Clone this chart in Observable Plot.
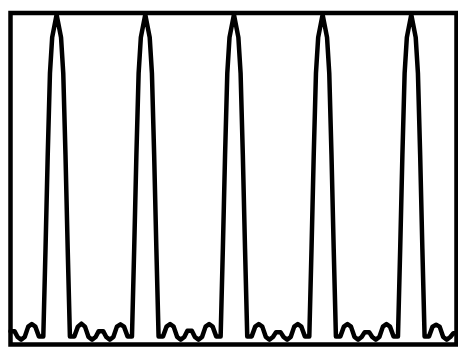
<!DOCTYPE html>
<html><head><meta charset="utf-8">
<script src="https://cdn.jsdelivr.net/npm/d3@7"></script>
<script src="https://cdn.jsdelivr.net/npm/@observablehq/plot@0.6"></script>
<style>html,body{margin:0;padding:0;background:#fff;} svg{display:block;}</style>
</head><body><div id="chart"></div>
<script>
// sample positions, one row per stretch between peaks
const xs = [
  -0.4, 0.5, 1.2, 2, 2.8, 3.6, 4.4, 5.2, 6, 7, 7.5, 8, 8.5, 9,
  10, 11, 11.5, 12, 12.5, 13, 14, 14.8, 15.6, 16.4, 17.2, 18, 18.8, 19.5, 20.5, 21.2, 22, 22.8, 23.6, 24.4, 25.2, 26, 27, 27.5, 28, 28.5, 29,
  30, 31, 31.5, 32, 32.5, 33, 34, 34.8, 35.6, 36.4, 37.2, 38, 38.8, 39.5, 40.5, 41.2, 42, 42.8, 43.6, 44.4, 45.2, 46, 47, 47.5, 48, 48.5, 49,
  50, 51, 51.5, 52, 52.5, 53, 54, 54.8, 55.6, 56.4, 57.2, 58, 58.8, 59.5, 60.5, 61.2, 62, 62.8, 63.6, 64.4, 65.2, 66, 67, 67.5, 68, 68.5, 69,
  70, 71, 71.5, 72, 72.5, 73, 74, 74.8, 75.6, 76.4, 77.2, 78, 78.8, 79.5, 80.5, 81.2, 82, 82.8, 83.6, 84.4, 85.2, 86, 87, 87.5, 88, 88.5, 89,
  90, 91, 91.5, 92, 92.5, 93, 94, 94.8, 95.6, 96.4, 97.2, 98, 98.8, 99.5, 100.2
];
const ys = [
  0.026, 0.026, 0.008, 0, 0.008, 0.04, 0.048, 0.04, 0.01, 0.01, 0.28, 0.57, 0.82, 0.93,
  1, 0.93, 0.82, 0.57, 0.28, 0.01, 0.01, 0.04, 0.049, 0.04, 0.008, 0, 0.008, 0.026, 0.026, 0.008, 0, 0.008, 0.04, 0.047, 0.04, 0.01, 0.01, 0.28, 0.57, 0.82, 0.93,
  1, 0.93, 0.82, 0.57, 0.28, 0.01, 0.01, 0.04, 0.048, 0.04, 0.008, 0, 0.008, 0.027, 0.027, 0.008, 0, 0.008, 0.04, 0.048, 0.04, 0.01, 0.01, 0.28, 0.57, 0.82, 0.93,
  1, 0.93, 0.82, 0.57, 0.28, 0.01, 0.01, 0.04, 0.048, 0.04, 0.008, 0, 0.008, 0.023, 0.023, 0.008, 0, 0.008, 0.04, 0.048, 0.04, 0.01, 0.01, 0.28, 0.57, 0.82, 0.93,
  1, 0.93, 0.82, 0.57, 0.28, 0.01, 0.01, 0.04, 0.048, 0.04, 0.008, 0, 0.008, 0.023, 0.023, 0.008, 0, 0.008, 0.04, 0.048, 0.04, 0.01, 0.01, 0.28, 0.57, 0.82, 0.93,
  1, 0.93, 0.82, 0.57, 0.28, 0.01, 0.01, 0.04, 0.046, 0.04, 0.008, 0, 0.008, 0.02, 0.02
];
const data = xs.map((x, i) => ({x, y: ys[i]}));
const chart = Plot.plot({
  width: 458, height: 347,
  marginLeft: 10, marginRight: 2, marginTop: 12.5, marginBottom: 3,
  x: {domain: [-0.4, 100.2], axis: null},
  y: {domain: [-0.015, 1.005], axis: null},
  style: {background: "#fff"},
  marks: [
    Plot.line(data, {x: "x", y: "y", stroke: "#000", strokeWidth: 4.5}),
    Plot.frame({stroke: "#000", strokeWidth: 4.5})
  ]
});
document.getElementById("chart").append(chart);
</script></body></html>
